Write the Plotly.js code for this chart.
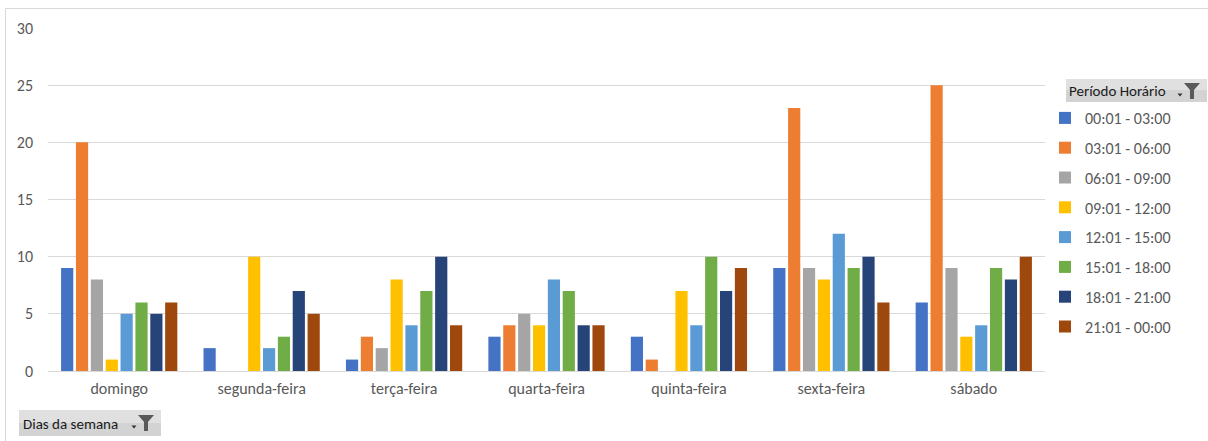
<!DOCTYPE html>
<html>
<head>
<meta charset="utf-8">
<script src="https://cdn.plot.ly/plotly-3.0.1.min.js"></script>
<style>
  html, body { margin: 0; padding: 0; background: #fff; }
  #chart { width: 1208px; height: 441px; }
</style>
</head>
<body>
<div id="chart"></div>
<script>
// ---- data ----
const days = ['domingo', 'segunda-feira', 'terça-feira', 'quarta-feira', 'quinta-feira', 'sexta-feira', 'sábado'];
const periods = ['00:01 - 03:00', '03:01 - 06:00', '06:01 - 09:00', '09:01 - 12:00', '12:01 - 15:00', '15:01 - 18:00', '18:01 - 21:00', '21:01 - 00:00'];
const p0001 = [9, 2, 1, 3, 3, 9, 6];
const p0301 = [20, 0, 3, 4, 1, 23, 25];
const p0601 = [8, 0, 2, 5, 0, 9, 9];
const p0901 = [1, 10, 8, 4, 7, 8, 3];
const p1201 = [5, 2, 4, 8, 4, 12, 4];
const p1501 = [6, 3, 7, 7, 10, 9, 9];
const p1801 = [5, 7, 10, 4, 7, 10, 8];
const p2101 = [6, 5, 4, 4, 9, 6, 10];
const yTicks = [0, 5, 10, 15, 20, 25, 30];
const seriesValues = [p0001, p0301, p0601, p0901, p1201, p1501, p1801, p2101];
const colors = ['#4472C4', '#ED7D31', '#A5A5A5', '#FFC000', '#5B9BD5', '#70AD47', '#264478', '#9E480E'];

const FONT = 'Carlito, Calibri, Lato, sans-serif';

const traces = periods.map((name, i) => ({
  type: 'bar',
  name: name,
  x: days,
  y: seriesValues[i],
  marker: { color: colors[i], line: { width: 0 } },
  legendgroup: 'g' + i,
  hoverinfo: 'x+y+name'
}));

// pixel -> paper helpers (plot area: x 48..1045, y 28..371)
const L = 48, R = 1045, T = 28, B = 371;
const px = x => (x - L) / (R - L);
const py = y => (B - y) / (B - T);
function path(pts) {
  return 'M' + pts.map(p => px(p[0]).toFixed(5) + ',' + py(p[1]).toFixed(5)).join(' L') + ' Z';
}
function funnel(cx, top) {
  return path([[cx - 8, top], [cx + 8, top], [cx + 2, top + 7], [cx + 2, top + 16], [cx - 2, top + 16], [cx - 2, top + 7]]);
}
function arrow(cx, cy) {
  return path([[cx - 2.5, cy - 1.5], [cx + 2.5, cy - 1.5], [cx, cy + 1.5]]);
}

const shapes = [
  // outer chart border
  { type: 'rect', xref: 'paper', yref: 'paper', x0: px(5.5), x1: px(1240), y0: py(500), y1: py(8.5),
    line: { color: '#d9d9d9', width: 1 }, fillcolor: 'rgba(0,0,0,0)', layer: 'below' },
  // legend header box
  { type: 'rect', xref: 'paper', yref: 'paper', x0: px(1066), x1: px(1207), y0: py(102), y1: py(79),
    line: { width: 0 }, fillcolor: '#e0e0e0' },
  { type: 'rect', xref: 'paper', yref: 'paper', x0: px(1066), x1: px(1207), y0: py(102), y1: py(90),
    line: { width: 0 }, fillcolor: '#d3d3d3' },
  { type: 'path', xref: 'paper', yref: 'paper', path: funnel(1192, 83), fillcolor: '#5a5a5a', line: { width: 0 } },
  { type: 'path', xref: 'paper', yref: 'paper', path: arrow(1180, 95), fillcolor: '#333', line: { width: 0 } },
  // axis field box
  { type: 'rect', xref: 'paper', yref: 'paper', x0: px(19), x1: px(161), y0: py(436), y1: py(410),
    line: { width: 0 }, fillcolor: '#e0e0e0' },
  { type: 'rect', xref: 'paper', yref: 'paper', x0: px(19), x1: px(161), y0: py(436), y1: py(423),
    line: { width: 0 }, fillcolor: '#d3d3d3' },
  { type: 'path', xref: 'paper', yref: 'paper', path: funnel(146, 415), fillcolor: '#5a5a5a', line: { width: 0 } },
  { type: 'path', xref: 'paper', yref: 'paper', path: arrow(134, 427), fillcolor: '#333', line: { width: 0 } }
];

const annotations = [
  { xref: 'paper', yref: 'paper', x: px(1067), y: py(91), xanchor: 'left', yanchor: 'middle',
    text: 'Período Horário', showarrow: false, font: { family: FONT, size: 15, color: '#1a1a1a' } },
  { xref: 'paper', yref: 'paper', x: px(21), y: py(424), xanchor: 'left', yanchor: 'middle',
    text: 'Dias da semana', showarrow: false, font: { family: FONT, size: 15, color: '#1a1a1a' } }
];

const layout = {
  width: 1208, height: 441,
  margin: { l: L, r: 1208 - R, t: T, b: 441 - B, pad: 0 },
  paper_bgcolor: '#ffffff', plot_bgcolor: '#ffffff',
  font: { family: FONT, size: 16, color: '#595959' },
  barmode: 'group',
  bargap: 0.165,
  bargroupgap: 0.18,
  showlegend: true,
  legend: {
    x: px(1045), y: py(101), xanchor: 'left', yanchor: 'top',
    font: { family: FONT, size: 16, color: '#595959' },
    tracegroupgap: 6, bgcolor: 'rgba(0,0,0,0)', borderwidth: 0
  },
  xaxis: {
    type: 'category', showgrid: false, zeroline: false, showline: false,
    ticks: '', ticklabelstandoff: 6,
    tickfont: { family: FONT, size: 16, color: '#595959' }
  },
  yaxis: {
    range: [0, 30], tickmode: 'array', tickvals: yTicks, ticktext: yTicks.map(String),
    showgrid: true, gridcolor: '#d9d9d9', gridwidth: 1,
    zeroline: true, zerolinecolor: '#d9d9d9', zerolinewidth: 1,
    showline: false, ticks: '', ticklabelstandoff: 14,
    tickfont: { family: FONT, size: 16, color: '#595959' }
  },
  shapes: shapes,
  annotations: annotations
};

Plotly.newPlot('chart', traces, layout, { displayModeBar: false, staticPlot: true });
</script>
</body>
</html>
